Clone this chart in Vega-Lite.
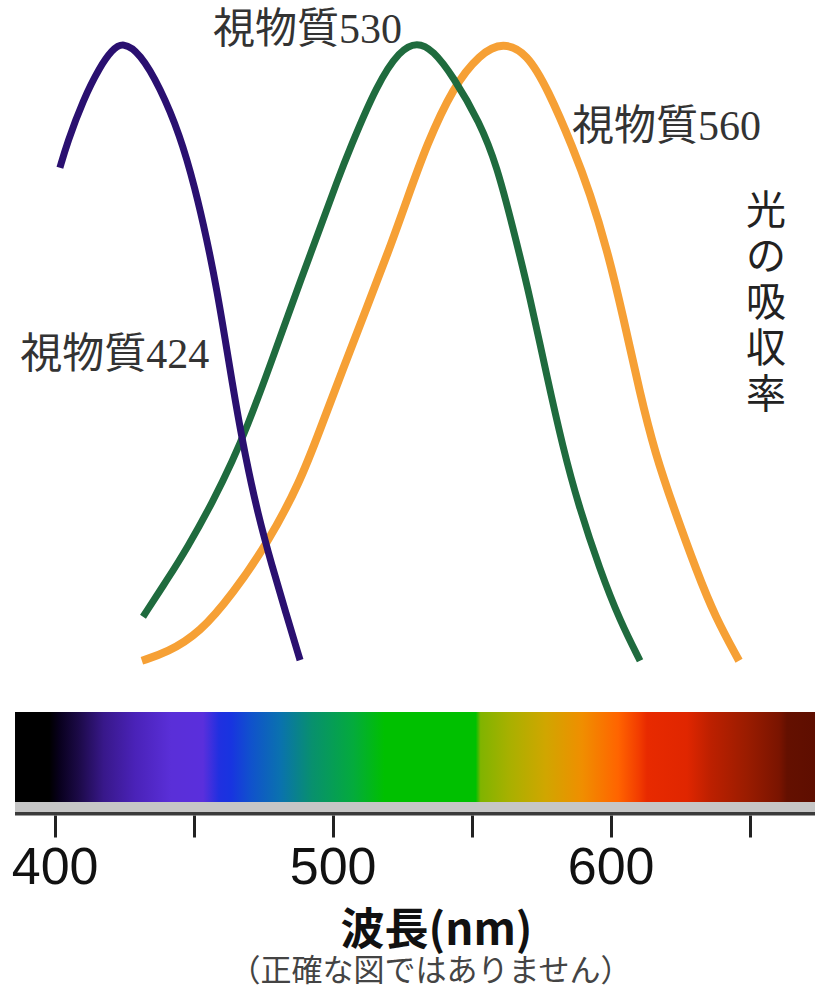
{
  "$schema": "https://vega.github.io/schema/vega-lite/v6.json",
  "width": 815,
  "height": 815,
  "autosize": "none",
  "padding": {"left": 0, "top": 0, "right": 0, "bottom": 181},
  "background": "#ffffff",
  "config": {"view": {"stroke": null}},
  "datasets": {
    "curves": [
      {"s": "424", "nm": 401.9, "a": 0.797}, {"s": "424", "nm": 404.5, "a": 0.837}, {"s": "424", "nm": 410.2, "a": 0.906},
      {"s": "424", "nm": 416.3, "a": 0.960}, {"s": "424", "nm": 420.6, "a": 0.987}, {"s": "424", "nm": 424.6, "a": 1.0},
      {"s": "424", "nm": 430.7, "a": 0.982}, {"s": "424", "nm": 437.9, "a": 0.927}, {"s": "424", "nm": 445.1, "a": 0.850},
      {"s": "424", "nm": 450.5, "a": 0.765}, {"s": "424", "nm": 454.8, "a": 0.681}, {"s": "424", "nm": 458.4, "a": 0.600},
      {"s": "424", "nm": 462.0, "a": 0.503}, {"s": "424", "nm": 464.9, "a": 0.423}, {"s": "424", "nm": 468.5, "a": 0.334},
      {"s": "424", "nm": 473.2, "a": 0.237}, {"s": "424", "nm": 478.2, "a": 0.155}, {"s": "424", "nm": 483.2, "a": 0.079},
      {"s": "424", "nm": 488.3, "a": 0.003},
      {"s": "530", "nm": 431.8, "a": 0.073}, {"s": "530", "nm": 440.4, "a": 0.132}, {"s": "530", "nm": 447.6, "a": 0.183},
      {"s": "530", "nm": 457.0, "a": 0.259}, {"s": "530", "nm": 464.2, "a": 0.326}, {"s": "530", "nm": 469.2, "a": 0.379},
      {"s": "530", "nm": 475.7, "a": 0.456}, {"s": "530", "nm": 482.2, "a": 0.537}, {"s": "530", "nm": 488.3, "a": 0.613},
      {"s": "530", "nm": 495.5, "a": 0.700}, {"s": "530", "nm": 501.6, "a": 0.775}, {"s": "530", "nm": 506.3, "a": 0.829},
      {"s": "530", "nm": 516.0, "a": 0.932}, {"s": "530", "nm": 524.2, "a": 0.987}, {"s": "530", "nm": 530.4, "a": 1.0},
      {"s": "530", "nm": 536.1, "a": 0.987}, {"s": "530", "nm": 543.3, "a": 0.945}, {"s": "530", "nm": 553.0, "a": 0.870},
      {"s": "530", "nm": 559.1, "a": 0.800}, {"s": "530", "nm": 564.9, "a": 0.700}, {"s": "530", "nm": 571.0, "a": 0.589},
      {"s": "530", "nm": 577.1, "a": 0.460}, {"s": "530", "nm": 582.9, "a": 0.345}, {"s": "530", "nm": 588.3, "a": 0.255},
      {"s": "530", "nm": 596.2, "a": 0.148}, {"s": "530", "nm": 603.4, "a": 0.066}, {"s": "530", "nm": 610.6, "a": 0.002},
      {"s": "560", "nm": 431.4, "a": 0.002}, {"s": "560", "nm": 440.4, "a": 0.015}, {"s": "560", "nm": 452.3, "a": 0.047},
      {"s": "560", "nm": 464.2, "a": 0.111}, {"s": "560", "nm": 476.4, "a": 0.190}, {"s": "560", "nm": 488.3, "a": 0.290},
      {"s": "560", "nm": 495.5, "a": 0.375}, {"s": "560", "nm": 503.7, "a": 0.472}, {"s": "560", "nm": 512.4, "a": 0.573},
      {"s": "560", "nm": 520.6, "a": 0.668}, {"s": "560", "nm": 526.7, "a": 0.745}, {"s": "560", "nm": 533.9, "a": 0.835},
      {"s": "560", "nm": 543.3, "a": 0.927}, {"s": "560", "nm": 553.0, "a": 0.981}, {"s": "560", "nm": 561.3, "a": 1.0},
      {"s": "560", "nm": 569.9, "a": 0.982}, {"s": "560", "nm": 577.5, "a": 0.923}, {"s": "560", "nm": 586.5, "a": 0.829},
      {"s": "560", "nm": 592.6, "a": 0.756}, {"s": "560", "nm": 598.7, "a": 0.666}, {"s": "560", "nm": 604.5, "a": 0.558},
      {"s": "560", "nm": 610.6, "a": 0.432}, {"s": "560", "nm": 616.0, "a": 0.337}, {"s": "560", "nm": 622.8, "a": 0.247},
      {"s": "560", "nm": 631.1, "a": 0.145}, {"s": "560", "nm": 637.6, "a": 0.073}, {"s": "560", "nm": 646.2, "a": 0.002}
    ],
    "labels": [
      {"t": "視物質424", "nm": 387.6, "a": 0.495},
      {"t": "視物質530", "nm": 457.0, "a": 1.019},
      {"t": "視物質560", "nm": 586.1, "a": 0.863}
    ]
  },
  "layer": [
    {
      "data": {"values": [{"x0": 385.76, "x1": 673.53, "y0": -0.0806, "y1": -0.2258}]},
      "mark": {
        "type": "rect",
        "fill": {
          "gradient": "linear", "x1": 0, "y1": 0, "x2": 1, "y2": 0,
          "stops": [
            {"offset": 0.0, "color": "#000000"},
            {"offset": 0.043, "color": "#000000"},
            {"offset": 0.055, "color": "#08001c"},
            {"offset": 0.08, "color": "#1c0a48"},
            {"offset": 0.111, "color": "#38188a"},
            {"offset": 0.15, "color": "#4a22b8"},
            {"offset": 0.195, "color": "#5a2fd8"},
            {"offset": 0.235, "color": "#5a2fdc"},
            {"offset": 0.255, "color": "#2030e0"},
            {"offset": 0.27, "color": "#1834e0"},
            {"offset": 0.295, "color": "#1052cc"},
            {"offset": 0.332, "color": "#0a72ae"},
            {"offset": 0.371, "color": "#08906e"},
            {"offset": 0.423, "color": "#04ab3c"},
            {"offset": 0.462, "color": "#00c000"},
            {"offset": 0.576, "color": "#00c000"},
            {"offset": 0.582, "color": "#80b400"},
            {"offset": 0.618, "color": "#a8b000"},
            {"offset": 0.663, "color": "#d0a600"},
            {"offset": 0.709, "color": "#f08e00"},
            {"offset": 0.754, "color": "#ff6400"},
            {"offset": 0.78, "color": "#f23c00"},
            {"offset": 0.79, "color": "#e82a00"},
            {"offset": 0.84, "color": "#e02600"},
            {"offset": 0.87, "color": "#bc2000"},
            {"offset": 0.915, "color": "#9a1c00"},
            {"offset": 0.955, "color": "#7a1400"},
            {"offset": 0.965, "color": "#641000"},
            {"offset": 1.0, "color": "#5e0e00"}
          ]
        }
      },
      "encoding": {
        "x": {
          "field": "x0", "type": "quantitative",
          "scale": {"domain": [380.36, 673.53], "nice": false, "zero": false},
          "axis": {
            "values": [400, 450, 500, 550, 600, 650],
            "labelExpr": "datum.value % 100 === 0 ? datum.label : ''",
            "domain": false, "grid": false,
            "tickSize": 22, "tickWidth": 3, "tickColor": "#222222",
            "labelFont": "Liberation Sans Narrow, Liberation Sans, Arial",
            "labelFontSize": 52, "labelColor": "#111111", "labelPadding": 5,
            "labelFlush": false, "labelOverlap": false,
            "title": "波長(nm)",
            "titleFont": "Noto Sans CJK JP", "titleFontSize": 44, "titleFontWeight": "bold",
            "titleColor": "#111111", "titleX": 436, "titleY": 116,
            "titleAlign": "center", "titleBaseline": "middle"
          }
        },
        "x2": {"field": "x1"},
        "y": {
          "field": "y0", "type": "quantitative",
          "scale": {"domain": [-0.2468, 1.0677], "nice": false, "zero": false},
          "axis": null
        },
        "y2": {"field": "y1"}
      }
    },
    {
      "data": {"values": [{"x0": 385.76, "x1": 673.53, "y0": -0.2258, "y1": -0.2419}]},
      "mark": {"type": "rect", "fill": "#c6c6c6"},
      "encoding": {
        "x": {"field": "x0", "type": "quantitative"},
        "x2": {"field": "x1"},
        "y": {"field": "y0", "type": "quantitative"},
        "y2": {"field": "y1"}
      }
    },
    {
      "data": {"values": [{"x0": 385.76, "x1": 673.53, "y0": -0.2419, "y1": -0.2475}]},
      "mark": {"type": "rect", "fill": "#3a3a3a"},
      "encoding": {
        "x": {"field": "x0", "type": "quantitative"},
        "x2": {"field": "x1"},
        "y": {"field": "y0", "type": "quantitative"},
        "y2": {"field": "y1"}
      }
    },
    {
      "data": {"name": "curves"},
      "transform": [{"filter": "datum.s === '560'"}],
      "mark": {"type": "line", "color": "#f6a035", "strokeWidth": 8, "interpolate": "basis", "strokeCap": "butt"},
      "encoding": {
        "x": {"field": "nm", "type": "quantitative"},
        "y": {"field": "a", "type": "quantitative"}
      }
    },
    {
      "data": {"name": "curves"},
      "transform": [{"filter": "datum.s === '530'"}],
      "mark": {"type": "line", "color": "#1f6b3e", "strokeWidth": 7, "interpolate": "basis", "strokeCap": "butt"},
      "encoding": {
        "x": {"field": "nm", "type": "quantitative"},
        "y": {"field": "a", "type": "quantitative"}
      }
    },
    {
      "data": {"name": "curves"},
      "transform": [{"filter": "datum.s === '424'"}],
      "mark": {"type": "line", "color": "#2a1070", "strokeWidth": 7, "interpolate": "basis", "strokeCap": "butt"},
      "encoding": {
        "x": {"field": "nm", "type": "quantitative"},
        "y": {"field": "a", "type": "quantitative"}
      }
    },
    {
      "data": {"name": "labels"},
      "mark": {"type": "text", "align": "left", "baseline": "middle", "font": "Liberation Serif, Noto Sans CJK JP", "fontSize": 42, "color": "#333333"},
      "encoding": {
        "x": {"field": "nm", "type": "quantitative"},
        "y": {"field": "a", "type": "quantitative"},
        "text": {"field": "t"}
      }
    },
    {
      "data": {"values": [{"t": ["光", "の", "吸", "収", "率"], "nm": 655.9, "a": 0.726}]},
      "mark": {"type": "text", "align": "center", "baseline": "middle", "font": "Noto Sans CJK JP", "fontSize": 40, "lineHeight": 46, "color": "#222222"},
      "encoding": {
        "x": {"field": "nm", "type": "quantitative"},
        "y": {"field": "a", "type": "quantitative"},
        "text": {"field": "t"}
      }
    },
    {
      "data": {"values": [{"t": "（正確な図ではありません）", "nm": 535.2, "a": -0.5}]},
      "mark": {"type": "text", "align": "center", "baseline": "middle", "font": "Noto Sans CJK JP", "fontSize": 31, "color": "#444444"},
      "encoding": {
        "x": {"field": "nm", "type": "quantitative"},
        "y": {"field": "a", "type": "quantitative"},
        "text": {"field": "t"}
      }
    }
  ]
}
